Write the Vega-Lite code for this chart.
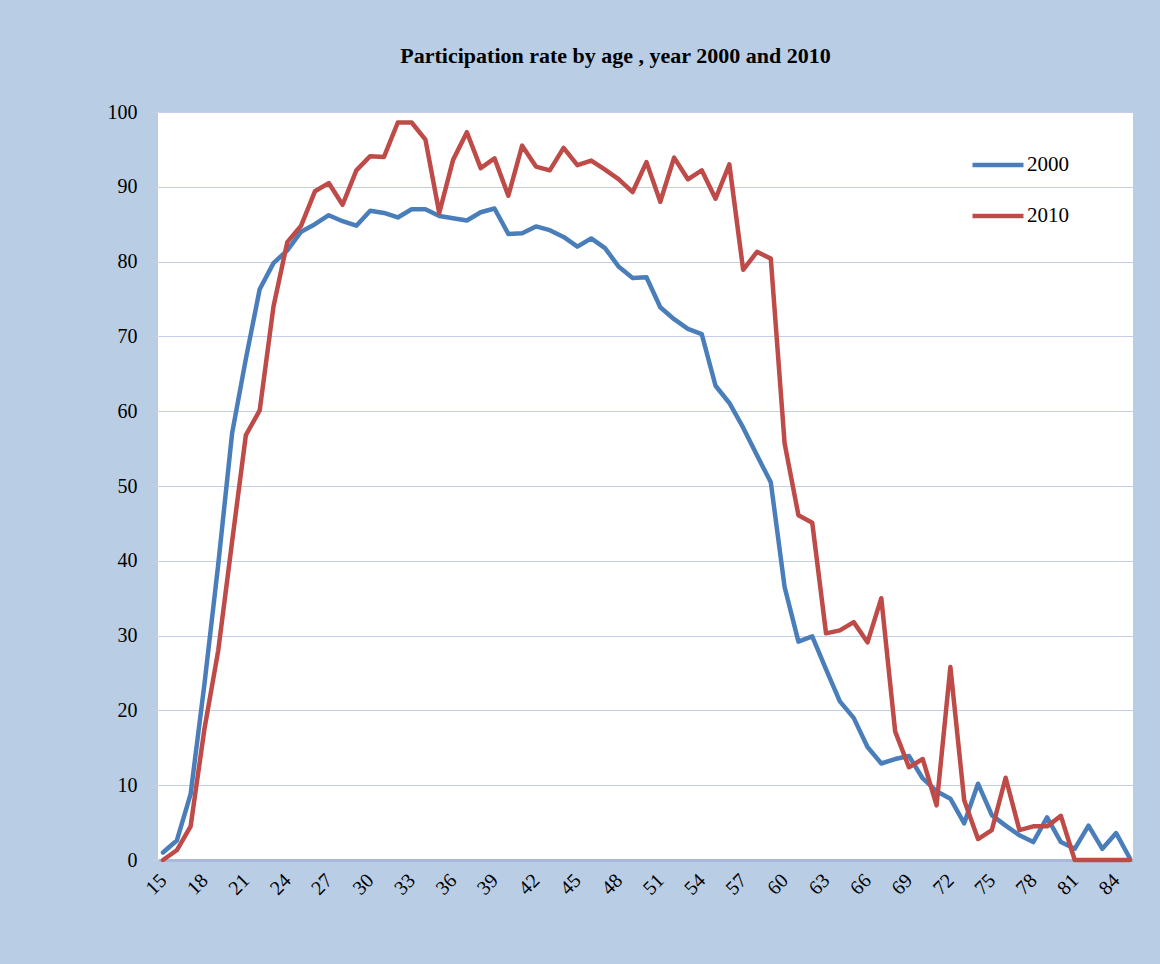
{
  "$schema": "https://vega.github.io/schema/vega-lite/v6.json",
  "width": 975,
  "height": 748,
  "autosize": "none",
  "padding": {"left": 158, "top": 112, "right": 27, "bottom": 104},
  "background": "#b9cde5",
  "title": {
    "text": "Participation rate by age , year 2000 and 2010",
    "font": "Liberation Serif",
    "fontSize": 22,
    "fontWeight": "bold",
    "color": "#000000",
    "anchor": "middle",
    "frame": "group",
    "dx": -30,
    "offset": 34
  },
  "config": {
    "view": {"fill": "#ffffff", "stroke": null},
    "axis": {"labelFont": "Liberation Serif", "labelColor": "#000000", "titleFont": "Liberation Serif"}
  },
  "data": {
    "values": [
      {"age": 15, "year": "2000", "rate": 1.0}, {"age": 16, "year": "2000", "rate": 2.6}, {"age": 17, "year": "2000", "rate": 8.8},
      {"age": 18, "year": "2000", "rate": 23.5}, {"age": 19, "year": "2000", "rate": 39.5}, {"age": 20, "year": "2000", "rate": 57.0},
      {"age": 21, "year": "2000", "rate": 67.0}, {"age": 22, "year": "2000", "rate": 76.3}, {"age": 23, "year": "2000", "rate": 79.8},
      {"age": 24, "year": "2000", "rate": 81.5}, {"age": 25, "year": "2000", "rate": 84.0}, {"age": 26, "year": "2000", "rate": 85.0},
      {"age": 27, "year": "2000", "rate": 86.2}, {"age": 28, "year": "2000", "rate": 85.4}, {"age": 29, "year": "2000", "rate": 84.8},
      {"age": 30, "year": "2000", "rate": 86.8}, {"age": 31, "year": "2000", "rate": 86.5}, {"age": 32, "year": "2000", "rate": 85.9},
      {"age": 33, "year": "2000", "rate": 87.0}, {"age": 34, "year": "2000", "rate": 87.0}, {"age": 35, "year": "2000", "rate": 86.1},
      {"age": 36, "year": "2000", "rate": 85.8}, {"age": 37, "year": "2000", "rate": 85.5}, {"age": 38, "year": "2000", "rate": 86.6},
      {"age": 39, "year": "2000", "rate": 87.1}, {"age": 40, "year": "2000", "rate": 83.7}, {"age": 41, "year": "2000", "rate": 83.8},
      {"age": 42, "year": "2000", "rate": 84.7}, {"age": 43, "year": "2000", "rate": 84.2}, {"age": 44, "year": "2000", "rate": 83.3},
      {"age": 45, "year": "2000", "rate": 82.0}, {"age": 46, "year": "2000", "rate": 83.1}, {"age": 47, "year": "2000", "rate": 81.8},
      {"age": 48, "year": "2000", "rate": 79.3}, {"age": 49, "year": "2000", "rate": 77.8}, {"age": 50, "year": "2000", "rate": 77.9},
      {"age": 51, "year": "2000", "rate": 73.9}, {"age": 52, "year": "2000", "rate": 72.3}, {"age": 53, "year": "2000", "rate": 71.0},
      {"age": 54, "year": "2000", "rate": 70.3}, {"age": 55, "year": "2000", "rate": 63.4}, {"age": 56, "year": "2000", "rate": 61.1},
      {"age": 57, "year": "2000", "rate": 57.8}, {"age": 58, "year": "2000", "rate": 54.1}, {"age": 59, "year": "2000", "rate": 50.5},
      {"age": 60, "year": "2000", "rate": 36.5}, {"age": 61, "year": "2000", "rate": 29.2}, {"age": 62, "year": "2000", "rate": 29.9},
      {"age": 63, "year": "2000", "rate": 25.5}, {"age": 64, "year": "2000", "rate": 21.2}, {"age": 65, "year": "2000", "rate": 19.0},
      {"age": 66, "year": "2000", "rate": 15.1}, {"age": 67, "year": "2000", "rate": 12.9}, {"age": 68, "year": "2000", "rate": 13.5},
      {"age": 69, "year": "2000", "rate": 13.9}, {"age": 70, "year": "2000", "rate": 10.9}, {"age": 71, "year": "2000", "rate": 9.2},
      {"age": 72, "year": "2000", "rate": 8.2}, {"age": 73, "year": "2000", "rate": 4.9}, {"age": 74, "year": "2000", "rate": 10.2},
      {"age": 75, "year": "2000", "rate": 6.0}, {"age": 76, "year": "2000", "rate": 4.6}, {"age": 77, "year": "2000", "rate": 3.3},
      {"age": 78, "year": "2000", "rate": 2.4}, {"age": 79, "year": "2000", "rate": 5.7}, {"age": 80, "year": "2000", "rate": 2.4},
      {"age": 81, "year": "2000", "rate": 1.5}, {"age": 82, "year": "2000", "rate": 4.6}, {"age": 83, "year": "2000", "rate": 1.5},
      {"age": 84, "year": "2000", "rate": 3.6}, {"age": 85, "year": "2000", "rate": 0.2},
      {"age": 15, "year": "2010", "rate": 0.0}, {"age": 16, "year": "2010", "rate": 1.3}, {"age": 17, "year": "2010", "rate": 4.5},
      {"age": 18, "year": "2010", "rate": 17.5}, {"age": 19, "year": "2010", "rate": 28.0}, {"age": 20, "year": "2010", "rate": 42.5},
      {"age": 21, "year": "2010", "rate": 56.8}, {"age": 22, "year": "2010", "rate": 60.1}, {"age": 23, "year": "2010", "rate": 74.0},
      {"age": 24, "year": "2010", "rate": 82.6}, {"age": 25, "year": "2010", "rate": 84.8}, {"age": 26, "year": "2010", "rate": 89.4},
      {"age": 27, "year": "2010", "rate": 90.5}, {"age": 28, "year": "2010", "rate": 87.6}, {"age": 29, "year": "2010", "rate": 92.2},
      {"age": 30, "year": "2010", "rate": 94.1}, {"age": 31, "year": "2010", "rate": 94.0}, {"age": 32, "year": "2010", "rate": 98.6},
      {"age": 33, "year": "2010", "rate": 98.6}, {"age": 34, "year": "2010", "rate": 96.3}, {"age": 35, "year": "2010", "rate": 86.5},
      {"age": 36, "year": "2010", "rate": 93.6}, {"age": 37, "year": "2010", "rate": 97.3}, {"age": 38, "year": "2010", "rate": 92.5},
      {"age": 39, "year": "2010", "rate": 93.8}, {"age": 40, "year": "2010", "rate": 88.8}, {"age": 41, "year": "2010", "rate": 95.5},
      {"age": 42, "year": "2010", "rate": 92.7}, {"age": 43, "year": "2010", "rate": 92.2}, {"age": 44, "year": "2010", "rate": 95.2},
      {"age": 45, "year": "2010", "rate": 92.9}, {"age": 46, "year": "2010", "rate": 93.5}, {"age": 47, "year": "2010", "rate": 92.3},
      {"age": 48, "year": "2010", "rate": 91.0}, {"age": 49, "year": "2010", "rate": 89.3}, {"age": 50, "year": "2010", "rate": 93.3},
      {"age": 51, "year": "2010", "rate": 88.0}, {"age": 52, "year": "2010", "rate": 93.9}, {"age": 53, "year": "2010", "rate": 91.0},
      {"age": 54, "year": "2010", "rate": 92.2}, {"age": 55, "year": "2010", "rate": 88.4}, {"age": 56, "year": "2010", "rate": 93.0},
      {"age": 57, "year": "2010", "rate": 78.9}, {"age": 58, "year": "2010", "rate": 81.3}, {"age": 59, "year": "2010", "rate": 80.4},
      {"age": 60, "year": "2010", "rate": 55.7}, {"age": 61, "year": "2010", "rate": 46.1}, {"age": 62, "year": "2010", "rate": 45.1},
      {"age": 63, "year": "2010", "rate": 30.3}, {"age": 64, "year": "2010", "rate": 30.7}, {"age": 65, "year": "2010", "rate": 31.8},
      {"age": 66, "year": "2010", "rate": 29.1}, {"age": 67, "year": "2010", "rate": 35.0}, {"age": 68, "year": "2010", "rate": 17.2},
      {"age": 69, "year": "2010", "rate": 12.4}, {"age": 70, "year": "2010", "rate": 13.5}, {"age": 71, "year": "2010", "rate": 7.3},
      {"age": 72, "year": "2010", "rate": 25.8}, {"age": 73, "year": "2010", "rate": 8.0}, {"age": 74, "year": "2010", "rate": 2.8},
      {"age": 75, "year": "2010", "rate": 4.0}, {"age": 76, "year": "2010", "rate": 11.0}, {"age": 77, "year": "2010", "rate": 4.0},
      {"age": 78, "year": "2010", "rate": 4.5}, {"age": 79, "year": "2010", "rate": 4.5}, {"age": 80, "year": "2010", "rate": 5.9},
      {"age": 81, "year": "2010", "rate": 0.0}, {"age": 82, "year": "2010", "rate": 0.0}, {"age": 83, "year": "2010", "rate": 0.0},
      {"age": 84, "year": "2010", "rate": 0.0}, {"age": 85, "year": "2010", "rate": 0.0}
    ]
  },
  "mark": {"type": "line", "strokeWidth": 4.5, "strokeJoin": "round", "strokeCap": "round"},
  "encoding": {
    "x": {
      "field": "age",
      "type": "quantitative",
      "scale": {"domain": [14.64, 85.22], "nice": false, "zero": false},
      "axis": {
        "title": null,
        "values": [15, 18, 21, 24, 27, 30, 33, 36, 39, 42, 45, 48, 51, 54, 57, 60, 63, 66, 69, 72, 75, 78, 81, 84],
        "labelAngle": -45,
        "labelAlign": "right",
        "labelBaseline": "middle",
        "labelFontSize": 20,
        "labelPadding": 12,
        "tickSize": 5,
        "tickColor": "#c6d0e8",
        "domainColor": "#a9b9dc",
        "domainWidth": 3,
        "grid": false
      }
    },
    "y": {
      "field": "rate",
      "type": "quantitative",
      "scale": {"domain": [0, 100], "nice": false},
      "axis": {
        "title": null,
        "values": [0, 10, 20, 30, 40, 50, 60, 70, 80, 90, 100],
        "labelFontSize": 20,
        "labelPadding": 15,
        "tickSize": 6,
        "tickColor": "#c6d0e8",
        "domain": false,
        "grid": true,
        "gridColor": "#c3cfe8",
        "gridWidth": 1.2,
        "gridOpacity": 1
      }
    },
    "color": {
      "field": "year",
      "type": "nominal",
      "scale": {"domain": ["2000", "2010"], "range": ["#4a7ebb", "#be4b48"]},
      "legend": {
        "title": null,
        "orient": "none",
        "legendX": 812,
        "legendY": 25,
        "padding": 0,
        "symbolType": "stroke",
        "symbolSize": 2600,
        "symbolStrokeWidth": 4.5,
        "labelFont": "Liberation Serif",
        "labelFontSize": 21,
        "labelColor": "#000000",
        "labelOffset": 1,
        "rowPadding": 13
      }
    }
  }
}
